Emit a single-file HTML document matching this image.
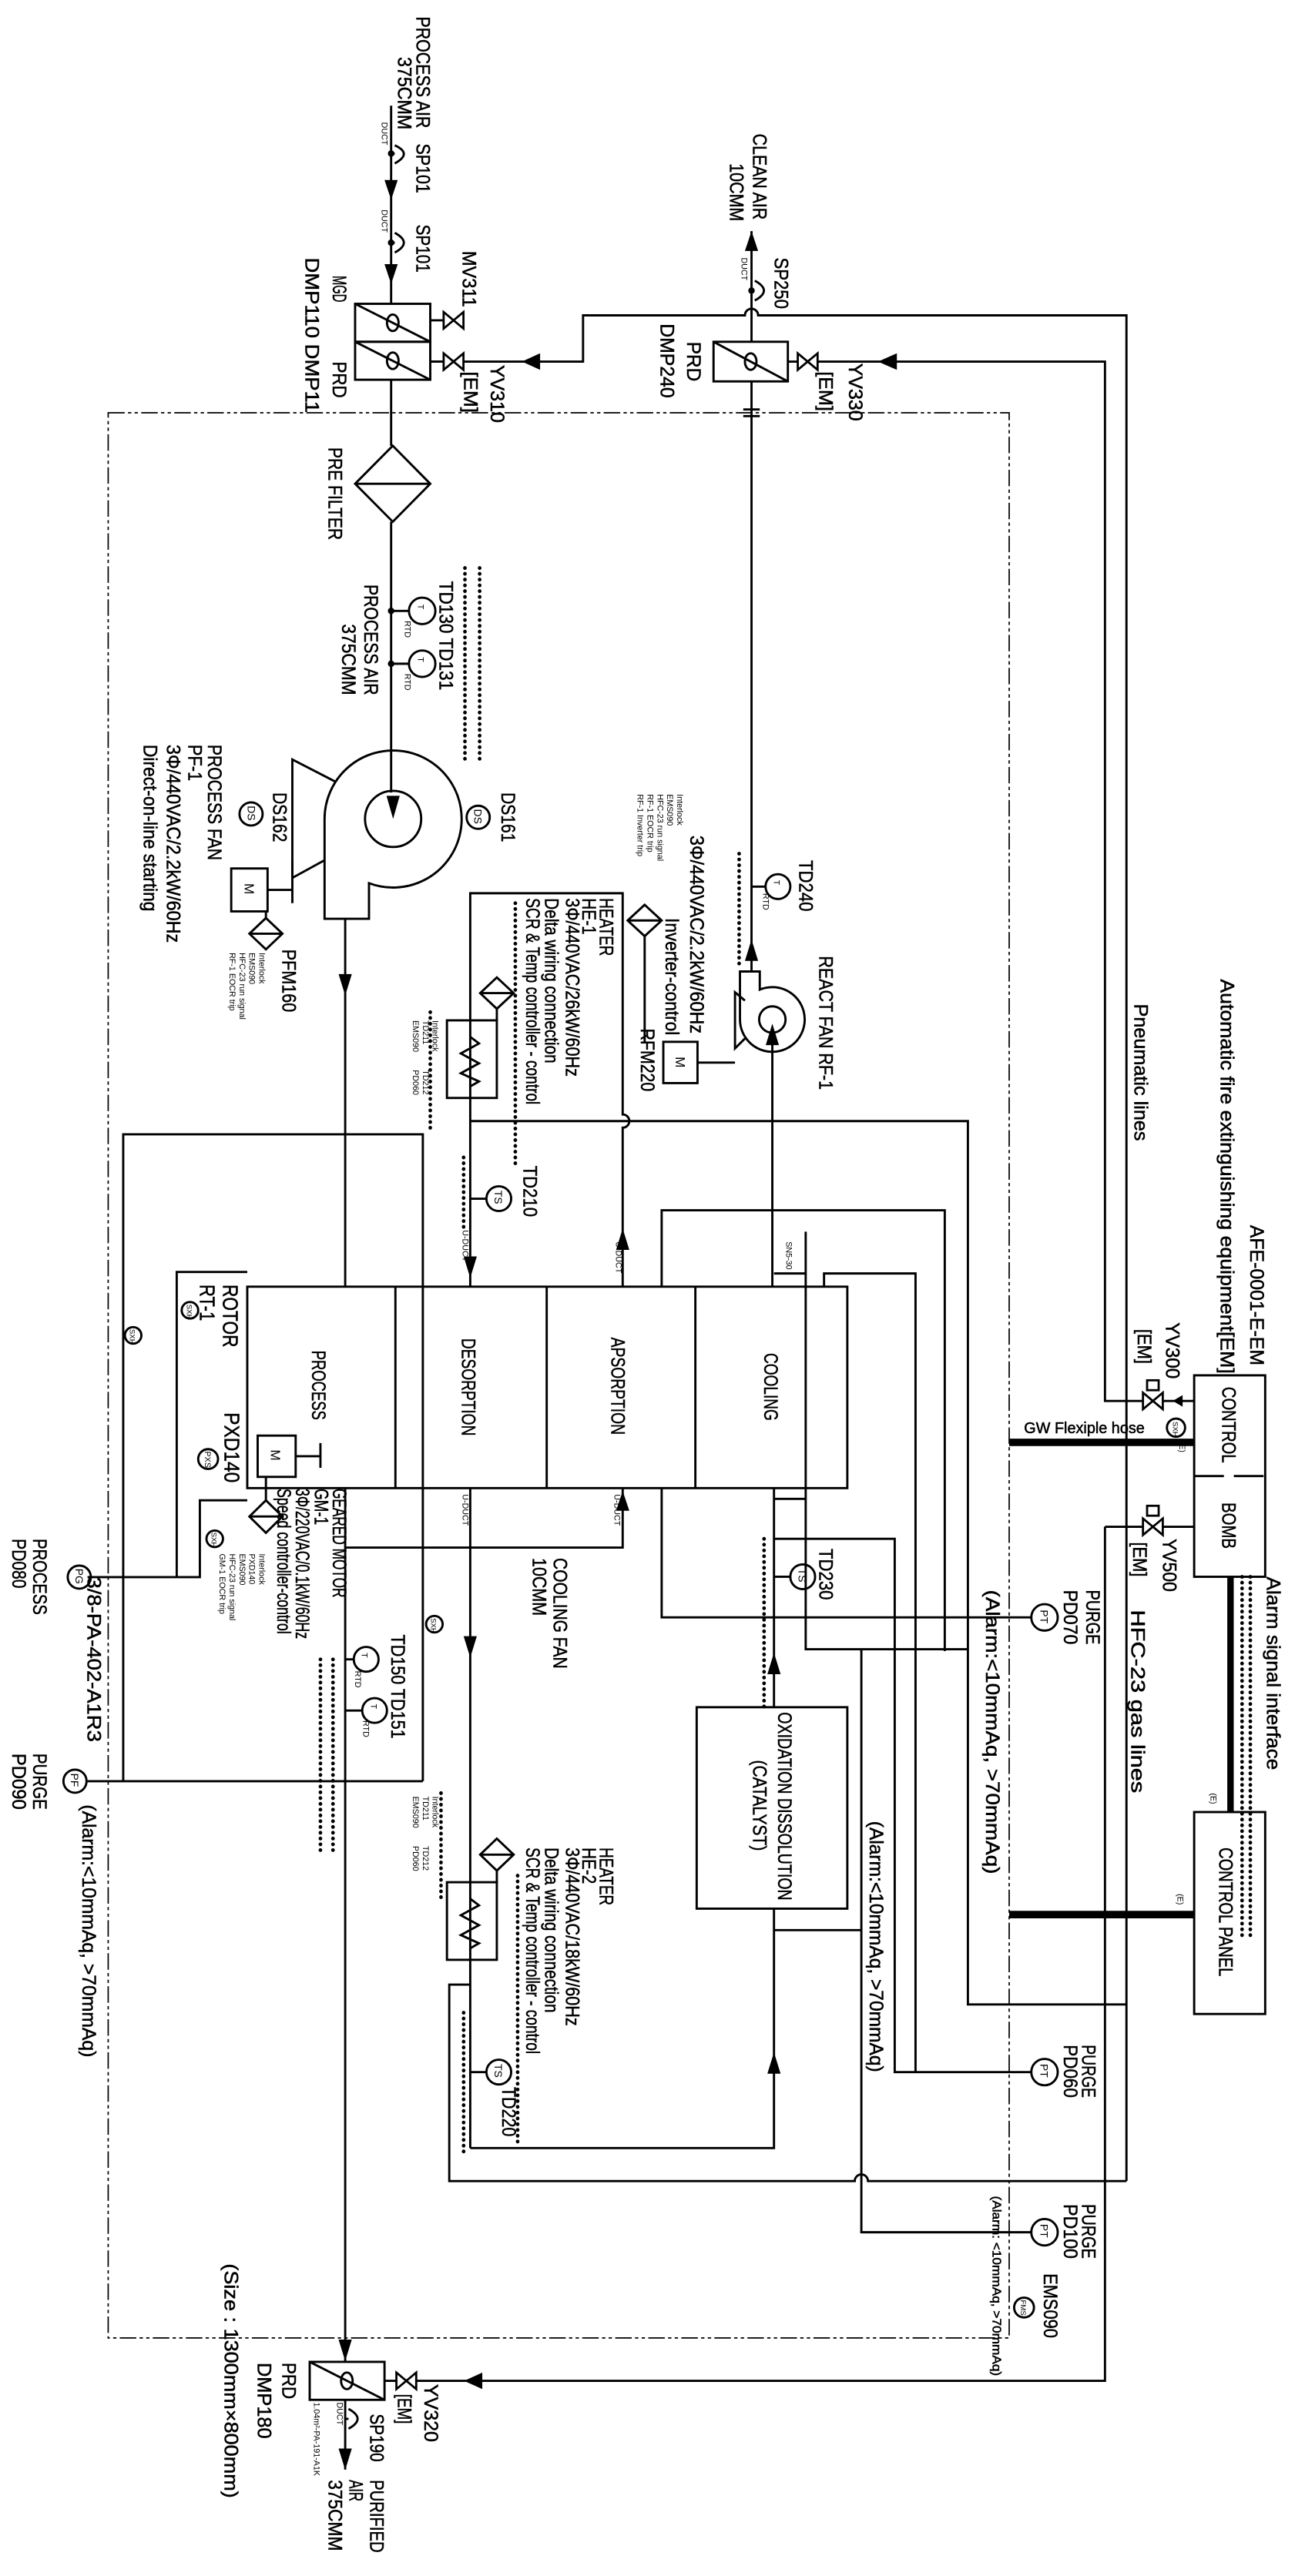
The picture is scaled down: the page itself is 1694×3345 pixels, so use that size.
<!DOCTYPE html>
<html><head><meta charset="utf-8"><style>
html,body{margin:0;padding:0;background:#fff}
svg{display:block}
text{font-family:"Liberation Sans",sans-serif;fill:#000;stroke:none}
.b text{stroke:#000;stroke-width:0.25}
</style></head><body>
<svg xmlns="http://www.w3.org/2000/svg" width="1694" height="3345" viewBox="0 0 790.1 1560.2" preserveAspectRatio="none">
<rect x="0" y="0" width="790.1" height="1560.2" fill="#fff"/>
<g stroke="#000" fill="none" stroke-width="1.35">
<path d="M65.5,250 H611 V1416 H65.5 Z" stroke-width="0.8" stroke-dasharray="10 2 2 2 2 2"/>
<path d="M236.8,64 V184"/>
<path d="M239,88 Q250,93 239,99 M236.8,93 H239"/>
<path d="M239,141 Q250,147 239,153 M236.8,147 H239"/>
<circle cx="236.8" cy="93" r="1.3"/><circle cx="236.8" cy="147" r="1.3"/>
<rect x="215" y="184" width="45.5" height="23"/><rect x="215" y="207" width="45.5" height="23"/>
<path d="M215,184 L260.5,207 M215,207 L260.5,230"/>
<ellipse cx="237.8" cy="195.5" rx="3.5" ry="5"/><ellipse cx="237.8" cy="218.5" rx="3.5" ry="5"/>
<path d="M260.5,194 H269 M260.5,219 H269"/>
<path d="M236.8,230 V270"/>
<polygon points="237.8,270 260.5,293 237.8,316 215,293"/><path d="M215,293 H260.5"/>
<path d="M236.8,316 V480"/>
<circle cx="236.8" cy="370" r="1.3"/><circle cx="236.8" cy="402" r="1.3"/>
<path d="M236.8,370 H247.6 M236.8,402 H247.6"/>
<ellipse cx="255.6" cy="370" rx="8" ry="8"/><ellipse cx="255.6" cy="402" rx="8" ry="8"/>
<path d="M223.4,534.9 A41.5,41.5 0 1 0 196.5,496 V556.5 H223.4 Z"/>
<circle cx="238" cy="496" r="17"/>
<path d="M203,473.4 L177,460 V531.7 L196.5,521"/>
<rect x="140" y="526" width="22" height="26"/>
<path d="M162,539 H177 M177,521 V547"/>
<polygon points="161,556 171,565.5 161,575 151,565.5"/><path d="M151,565.5 H171 M161,552 V556"/>
<circle cx="289.5" cy="495" r="7"/><circle cx="152" cy="493" r="7"/>
<path d="M209,556.5 V779.3"/>
<path d="M74.6,1078.8 V687 H256 V1078.8 M53,1078.8 H256"/>
<rect x="149.7" y="779.3" width="363.3" height="122"/>
<path d="M239.4,779.3 V901.3 M331,779.3 V901.3 M421,779.3 V901.3"/>
<path d="M487.8,746 V998.9 H586"/>
<path d="M468.6,771.3 H487.8 M468.6,907.8 H487.8"/>
<rect x="156" y="869.5" width="23" height="25"/>
<path d="M179,882 H194 M194,874 V889"/>
<polygon points="161,908.7 171,918.5 161,928.4 151,918.5"/><path d="M161,894.4 V908.7 M151,918.5 H171"/>
<path d="M149.7,770.4 H107 V955.2 M53,955.2 H121 V908.7 H149.7"/>
<circle cx="48" cy="955.2" r="7"/>
<circle cx="45.4" cy="1078.8" r="7"/>
<circle cx="126" cy="883.7" r="6"/>
<circle cx="80.6" cy="808.8" r="5"/><circle cx="115" cy="793.6" r="5"/><circle cx="130" cy="932" r="5"/><circle cx="263" cy="983.7" r="5"/>
<path d="M284.7,779.3 V541 H377 V675 A4,4 0 0 1 377,683 V779.3"/>
<rect x="270.6" y="618" width="30.2" height="47"/>
<path d="M284.7,628 L290,632 L279,638 L290,644 L279,650 L290,655 L284.7,658"/>
<polygon points="300.8,592 311,601.5 300.8,611 290.7,601.5"/><path d="M290.7,601.5 H311 M300.8,611 V618"/>
<path d="M284.7,679 H586 V1214 H682"/>
<circle cx="302" cy="726" r="7.5"/><path d="M284.7,726 H294.5"/>
<path d="M455,140 V207 M455,231 V588.4"/>
<path d="M450,248 H460 M450,252 H460"/>
<circle cx="455" cy="176" r="1.3"/><path d="M457,170 Q468,176 457,182"/>
<rect x="432" y="207" width="45" height="24"/><path d="M432,207 L477,231"/><ellipse cx="454.5" cy="219" rx="3.5" ry="5"/>
<path d="M460,599.4 V588.4 H448 V617.5 A19.6,19.6 0 1 0 460,599.4 Z"/>
<circle cx="467.6" cy="617.5" r="8"/>
<path d="M451,606 L445,601 V635 L451,629"/>
<rect x="401.6" y="631" width="20.7" height="25"/><path d="M422.3,643.6 H445"/>
<polygon points="390.3,548 400.6,557.5 390.3,567 380,557.5"/><path d="M380,557.5 H400.6 M390.3,567 V631"/>
<path d="M467.6,625 V779.3"/>
<circle cx="471" cy="537" r="7.5"/><path d="M455,537 H463.5"/>
<path d="M260.5,219 H353 V191 H451 A4,4 0 0 1 459,191 H682 V1321"/>
<path d="M477,219 H669 V848.5 H723"/>
<path d="M669,924.7 H723 M669,924.7 V1442 H232.8"/>
<rect x="723" y="833" width="43" height="122"/>
<path d="M723,894 H766" stroke-dasharray="18 6"/>
<path d="M611,873.6 H723" stroke-width="4.5"/>
<path d="M745,955 V1097.5" stroke-width="3.9"/>
<rect x="723" y="1097.5" width="43" height="122.3"/>
<path d="M611,1159.6 H723" stroke-width="4.5"/>
<circle cx="712" cy="864.7" r="5.5"/>
<path d="M400.6,779.3 V733 H572 V1000"/>
<path d="M400.6,901.3 V979.6 H624.4"/>
<path d="M498.9,779.3 V771.3 H554.3 V1255"/>
<path d="M468.6,932 H541.7 V1255 H624.4"/>
<path d="M468.6,901.3 V1034"/>
<circle cx="486" cy="955" r="7.5"/><path d="M468.6,955 H478.5"/>
<circle cx="632.4" cy="979.6" r="8"/><circle cx="632.4" cy="1255" r="8"/><circle cx="632.4" cy="1352" r="8"/>
<circle cx="620" cy="1397.6" r="6"/>
<rect x="421.8" y="1034" width="91.2" height="122"/>
<path d="M468.6,1156 V1301 H284.7 M468.6,1169 H521.5 M521.5,998.9 V1352 H624.4"/>
<path d="M284.7,901.3 V1301"/>
<rect x="270.6" y="1140" width="30.2" height="47"/>
<path d="M284.7,1150 L290,1154 L279,1160 L290,1166 L279,1172 L290,1177 L284.7,1180"/>
<polygon points="300.8,1113.6 311,1123.3 300.8,1133 290.7,1123.3"/><path d="M290.7,1123.3 H311 M300.8,1133 V1140"/>
<path d="M284.7,1202 H272 V1321 H517.5 A4,4 0 0 1 525.5,1321 H682"/>
<circle cx="302" cy="1255" r="7.5"/><path d="M284.7,1255 H294.5"/>
<path d="M209,937.3 H377 V901.3"/>
<path d="M209,901.3 V1430.5"/>
<circle cx="221.7" cy="1005" r="7.5"/><circle cx="226.8" cy="1036" r="7.5"/>
<path d="M209,1005 H214.2 M209,1036 H219.3"/>
<rect x="187.5" y="1430.5" width="45.3" height="23"/><path d="M187.5,1430.5 L232.8,1453.5"/><ellipse cx="210" cy="1442" rx="3.5" ry="5"/>
<path d="M209,1453.5 V1495.7"/>
<path d="M211,1459 Q222,1465 211,1471 M209,1465 H211"/>
</g>
<g stroke="#000" stroke-width="2.2" stroke-linecap="round" stroke-dasharray="0.1 3.4" fill="none">
<path d="M281.5,344 V462 M290.4,344 V462 M447.5,517 V585 M312,547 V706 M260.5,613 V685 M280.7,701 V744 M280.7,1219 V1306 M462.6,932 V1034 M194,1005 V1124 M201.6,1005 V1124 M313.4,1136 V1298 M267,1086 V1151 M752,955 V1175 M757,955 V1175"/>
</g>
<g fill="#000" stroke="none">
<polygon points="232.8,109 240.8,109 236.8,121"/>
<polygon points="232.8,160 240.8,160 236.8,172"/>
<polygon points="234,482 242,482 238,496"/>
<polygon points="205,590 213,590 209,603"/>
<polygon points="451,152 459,152 455,140"/>
<polygon points="451,582 459,582 455,569"/>
<polygon points="463.6,633 471.6,633 467.6,620"/>
<polygon points="316,219 327,214 327,224"/>
<polygon points="531.6,219 543,214 543,224"/>
<polygon points="710,848.5 716,845 716,852"/>
<polygon points="281,1442 292,1437 292,1447"/>
<polygon points="280.7,761 288.7,761 284.7,774"/>
<polygon points="373,757 381,757 377,744"/>
<polygon points="280.7,991 288.7,991 284.7,1004"/>
<polygon points="373,915 381,915 377,903"/>
<polygon points="464.6,1014 472.6,1014 468.6,1001"/>
<polygon points="464.6,1256 472.6,1256 468.6,1243"/>
<polygon points="205,1417 213,1417 209,1430"/>
<polygon points="205,1483 213,1483 209,1496"/>
</g>
<g stroke="#000" stroke-width="1.3" fill="#fff">
<path d="M268.6,189 L280.6,199 V189 L268.6,199 Z"/>
<path d="M268.6,214 L280.6,224 V214 L268.6,224 Z"/>
<path d="M483,214 L495,224 V214 L483,224 Z"/>
<path d="M692,843.5 L704,853.5 V843.5 L692,853.5 Z"/>
<path d="M692,919.7 L704,929.7 V919.7 L692,929.7 Z"/>
<path d="M240,1437 L252,1447 V1437 L240,1447 Z"/>
<rect x="694.5" y="836" width="7" height="6"/><rect x="694.5" y="912" width="7" height="6"/>
</g>
<g font-size="11.5" class="b">
<text transform="translate(252,10) rotate(90)" textLength="67.6" lengthAdjust="spacingAndGlyphs">PROCESS AIR</text>
<text transform="translate(241,34.5) rotate(90)" textLength="44" lengthAdjust="spacingAndGlyphs">375CMM</text>
<text transform="translate(252,87) rotate(90)" textLength="30" lengthAdjust="spacingAndGlyphs">SP101</text>
<text transform="translate(252,136) rotate(90)" textLength="29" lengthAdjust="spacingAndGlyphs">SP101</text>
<text transform="translate(280,152) rotate(90)" textLength="34" lengthAdjust="spacingAndGlyphs">MV311</text>
<text transform="translate(201.6,167) rotate(90)" textLength="16" lengthAdjust="spacingAndGlyphs">MGD</text>
<text transform="translate(185,156) rotate(90)" textLength="94" lengthAdjust="spacingAndGlyphs">DMP110 DMP11</text>
<text transform="translate(201.6,219) rotate(90)" textLength="22" lengthAdjust="spacingAndGlyphs">PRD</text>
<text transform="translate(297,221) rotate(90)" textLength="35" lengthAdjust="spacingAndGlyphs">YV310</text>
<text transform="translate(281,225) rotate(90)" textLength="25" lengthAdjust="spacingAndGlyphs">[EM]</text>
<text transform="translate(199,271) rotate(90)" textLength="56" lengthAdjust="spacingAndGlyphs">PRE FILTER</text>
<text transform="translate(456,81) rotate(90)" textLength="52" lengthAdjust="spacingAndGlyphs">CLEAN AIR</text>
<text transform="translate(442,99) rotate(90)" textLength="35" lengthAdjust="spacingAndGlyphs">10CMM</text>
<text transform="translate(469,156) rotate(90)" textLength="31" lengthAdjust="spacingAndGlyphs">SP250</text>
<text transform="translate(416,207) rotate(90)" textLength="24" lengthAdjust="spacingAndGlyphs">PRD</text>
<text transform="translate(400,196) rotate(90)" textLength="45" lengthAdjust="spacingAndGlyphs">DMP240</text>
<text transform="translate(514,220) rotate(90)" textLength="35" lengthAdjust="spacingAndGlyphs">YV330</text>
<text transform="translate(496,225) rotate(90)" textLength="24" lengthAdjust="spacingAndGlyphs">[EM]</text>
<text transform="translate(266,352) rotate(90)" textLength="66" lengthAdjust="spacingAndGlyphs">TD130 TD131</text>
<text transform="translate(220.6,354) rotate(90)" textLength="67" lengthAdjust="spacingAndGlyphs">PROCESS AIR</text>
<text transform="translate(207,378) rotate(90)" textLength="43" lengthAdjust="spacingAndGlyphs">375CMM</text>
<text transform="translate(303.7,480) rotate(90)" textLength="30" lengthAdjust="spacingAndGlyphs">DS161</text>
<text transform="translate(165.4,480) rotate(90)" textLength="30" lengthAdjust="spacingAndGlyphs">DS162</text>
<text transform="translate(126,451) rotate(90)" textLength="70" lengthAdjust="spacingAndGlyphs">PROCESS FAN</text>
<text transform="translate(114,451) rotate(90)" textLength="22" lengthAdjust="spacingAndGlyphs">PF-1</text>
<text transform="translate(101,451) rotate(90)" textLength="120" lengthAdjust="spacingAndGlyphs">3Φ/440VAC/2.2kW/60Hz</text>
<text transform="translate(87,451) rotate(90)" textLength="101" lengthAdjust="spacingAndGlyphs">Direct-on-line starting</text>
<text transform="translate(171,575) rotate(90)" textLength="38" lengthAdjust="spacingAndGlyphs">PFM160</text>
<text transform="translate(496,579) rotate(90)" textLength="81" lengthAdjust="spacingAndGlyphs">REACT FAN RF-1</text>
<text transform="translate(484,521) rotate(90)" textLength="31" lengthAdjust="spacingAndGlyphs">TD240</text>
<text transform="translate(418,506) rotate(90)" textLength="120" lengthAdjust="spacingAndGlyphs">3Φ/440VAC/2.2kW/60Hz</text>
<text transform="translate(403,556) rotate(90)" textLength="71" lengthAdjust="spacingAndGlyphs">Inverter-control</text>
<text transform="translate(388,623) rotate(90)" textLength="38" lengthAdjust="spacingAndGlyphs">RFM220</text>
<text transform="translate(363,544) rotate(90)" textLength="35" lengthAdjust="spacingAndGlyphs">HEATER</text>
<text transform="translate(352.7,544) rotate(90)" textLength="22" lengthAdjust="spacingAndGlyphs">HE-1</text>
<text transform="translate(342.6,544) rotate(90)" textLength="108" lengthAdjust="spacingAndGlyphs">3Φ/440VAC/26kW/60Hz</text>
<text transform="translate(330,544) rotate(90)" textLength="100" lengthAdjust="spacingAndGlyphs">Delta wiring connection</text>
<text transform="translate(318.5,544) rotate(90)" textLength="125" lengthAdjust="spacingAndGlyphs">SCR &amp; Temp controller - control</text>
<text transform="translate(317,706) rotate(90)" textLength="31" lengthAdjust="spacingAndGlyphs">TD210</text>
<text transform="translate(135,778) rotate(90)" textLength="38" lengthAdjust="spacingAndGlyphs" font-size="13">ROTOR</text>
<text transform="translate(121,778) rotate(90)" textLength="22" lengthAdjust="spacingAndGlyphs" font-size="13">RT-1</text>
<text transform="translate(136,855.5) rotate(90)" textLength="42.5" lengthAdjust="spacingAndGlyphs" font-size="13">PXD140</text>
<text transform="translate(189,818) rotate(90)" textLength="42" lengthAdjust="spacingAndGlyphs">PROCESS</text>
<text transform="translate(279.7,810.6) rotate(90)" textLength="59" lengthAdjust="spacingAndGlyphs">DESORPTION</text>
<text transform="translate(370,810) rotate(90)" textLength="59" lengthAdjust="spacingAndGlyphs">APSORPTION</text>
<text transform="translate(462.6,819.5) rotate(90)" textLength="41" lengthAdjust="spacingAndGlyphs">COOLING</text>
<text transform="translate(201.6,901.6) rotate(90)" textLength="66" lengthAdjust="spacingAndGlyphs">GEARED MOTOR</text>
<text transform="translate(190.5,901.6) rotate(90)" textLength="22" lengthAdjust="spacingAndGlyphs">GM-1</text>
<text transform="translate(179,901.6) rotate(90)" textLength="91" lengthAdjust="spacingAndGlyphs">3Φ/220VAC/0.1kW/60Hz</text>
<text transform="translate(168,901.6) rotate(90)" textLength="88" lengthAdjust="spacingAndGlyphs">Speed controller-control</text>
<text transform="translate(20,932) rotate(90)" textLength="46" lengthAdjust="spacingAndGlyphs">PROCESS</text>
<text transform="translate(7.5,932) rotate(90)" textLength="30" lengthAdjust="spacingAndGlyphs">PD080</text>
<text transform="translate(53,955) rotate(90)" textLength="100" lengthAdjust="spacingAndGlyphs">3/8-PA-402-A1R3</text>
<text transform="translate(335,943.6) rotate(90)" textLength="67" lengthAdjust="spacingAndGlyphs">COOLING FAN</text>
<text transform="translate(322.5,943.6) rotate(90)" textLength="35" lengthAdjust="spacingAndGlyphs">10CMM</text>
<text transform="translate(496,938) rotate(90)" textLength="31" lengthAdjust="spacingAndGlyphs">TD230</text>
<text transform="translate(237,990) rotate(90)" textLength="63" lengthAdjust="spacingAndGlyphs">TD150 TD151</text>
<text transform="translate(657.6,963) rotate(90)" textLength="33" lengthAdjust="spacingAndGlyphs">PURGE</text>
<text transform="translate(644,963) rotate(90)" textLength="33" lengthAdjust="spacingAndGlyphs">PD070</text>
<text transform="translate(597,963) rotate(90)" textLength="172" lengthAdjust="spacingAndGlyphs">(Alarm:&lt;10mmAq, &gt;70mmAq)</text>
<text transform="translate(686.7,608) rotate(90)" textLength="83" lengthAdjust="spacingAndGlyphs">Pneumatic lines</text>
<text transform="translate(739,593) rotate(90)" textLength="239" lengthAdjust="spacingAndGlyphs">Automatic fire extinguishing equipment[EM]</text>
<text transform="translate(757,742) rotate(90)" textLength="85" lengthAdjust="spacingAndGlyphs">AFE-0001-E-EM</text>
<text transform="translate(706,801) rotate(90)" textLength="34" lengthAdjust="spacingAndGlyphs">YV300</text>
<text transform="translate(689,805) rotate(90)" textLength="21" lengthAdjust="spacingAndGlyphs">[EM]</text>
<text transform="translate(740,840) rotate(90)" textLength="46" lengthAdjust="spacingAndGlyphs">CONTROL</text>
<text transform="translate(740,910) rotate(90)" textLength="28" lengthAdjust="spacingAndGlyphs">BOMB</text>
<text transform="translate(704,932) rotate(90)" textLength="32" lengthAdjust="spacingAndGlyphs">YV500</text>
<text transform="translate(686,934) rotate(90)" textLength="21" lengthAdjust="spacingAndGlyphs">[EM]</text>
<text x="620" y="868" font-size="9.5" textLength="73" lengthAdjust="spacingAndGlyphs">GW Flexiple hose</text>
<text transform="translate(767,955) rotate(90)" textLength="117" lengthAdjust="spacingAndGlyphs">Alarm signal interface</text>
<text transform="translate(685,975) rotate(90)" textLength="111" lengthAdjust="spacingAndGlyphs">HFC-23 gas lines</text>
<text transform="translate(738,1119) rotate(90)" textLength="78" lengthAdjust="spacingAndGlyphs">CONTROL PANEL</text>
<text transform="translate(471,1037) rotate(90)" textLength="114" lengthAdjust="spacingAndGlyphs">OXIDATION DISSOLUTION</text>
<text transform="translate(456,1066) rotate(90)" textLength="55" lengthAdjust="spacingAndGlyphs">(CATALYST)</text>
<text transform="translate(526.6,1103) rotate(90)" textLength="152" lengthAdjust="spacingAndGlyphs">(Alarm:&lt;10mmAq, &gt;70mmAq)</text>
<text transform="translate(655,1238.5) rotate(90)" textLength="32" lengthAdjust="spacingAndGlyphs">PURGE</text>
<text transform="translate(644,1238.5) rotate(90)" textLength="32" lengthAdjust="spacingAndGlyphs">PD060</text>
<text transform="translate(363,1119) rotate(90)" textLength="35" lengthAdjust="spacingAndGlyphs">HEATER</text>
<text transform="translate(352.7,1119) rotate(90)" textLength="22" lengthAdjust="spacingAndGlyphs">HE-2</text>
<text transform="translate(342.6,1119) rotate(90)" textLength="108" lengthAdjust="spacingAndGlyphs">3Φ/440VAC/18kW/60Hz</text>
<text transform="translate(330,1119) rotate(90)" textLength="100" lengthAdjust="spacingAndGlyphs">Delta wiring connection</text>
<text transform="translate(318.5,1119) rotate(90)" textLength="125" lengthAdjust="spacingAndGlyphs">SCR &amp; Temp controller - control</text>
<text transform="translate(304,1264) rotate(90)" textLength="30" lengthAdjust="spacingAndGlyphs">TD220</text>
<text transform="translate(20,1062) rotate(90)" textLength="34" lengthAdjust="spacingAndGlyphs">PURGE</text>
<text transform="translate(7.5,1062) rotate(90)" textLength="34" lengthAdjust="spacingAndGlyphs">PD090</text>
<text transform="translate(50,1093) rotate(90)" textLength="153" lengthAdjust="spacingAndGlyphs">(Alarm:&lt;10mmAq, &gt;70mmAq)</text>
<text transform="translate(655,1335) rotate(90)" textLength="33" lengthAdjust="spacingAndGlyphs">PURGE</text>
<text transform="translate(644,1335) rotate(90)" textLength="33" lengthAdjust="spacingAndGlyphs">PD100</text>
<text transform="translate(601,1330) rotate(90)" textLength="109" lengthAdjust="spacingAndGlyphs" font-size="7.5">(Alarm: &lt;10mmAq, &gt;70mmAq)</text>
<text transform="translate(632,1377) rotate(90)" textLength="39" lengthAdjust="spacingAndGlyphs">EMS090</text>
<text transform="translate(136,1371) rotate(90)" textLength="142" lengthAdjust="spacingAndGlyphs">(Size : 1300mm×800mm)</text>
<text transform="translate(171,1431) rotate(90)" textLength="22" lengthAdjust="spacingAndGlyphs">PRD</text>
<text transform="translate(156,1431) rotate(90)" textLength="46" lengthAdjust="spacingAndGlyphs">DMP180</text>
<text transform="translate(257,1444) rotate(90)" textLength="35" lengthAdjust="spacingAndGlyphs">YV320</text>
<text transform="translate(241,1450) rotate(90)" textLength="18" lengthAdjust="spacingAndGlyphs">[EM]</text>
<text transform="translate(224,1462) rotate(90)" textLength="29" lengthAdjust="spacingAndGlyphs">SP190</text>
<text transform="translate(224,1502) rotate(90)" textLength="44" lengthAdjust="spacingAndGlyphs">PURIFIED</text>
<text transform="translate(211.6,1502) rotate(90)" textLength="13" lengthAdjust="spacingAndGlyphs">AIR</text>
<text transform="translate(199,1502) rotate(90)" textLength="43" lengthAdjust="spacingAndGlyphs">375CMM</text>
</g>
<g font-size="5">
<text transform="translate(231,74) rotate(90)">DUCT</text>
<text transform="translate(231,127) rotate(90)">DUCT</text>
<text transform="translate(449,156) rotate(90)">DUCT</text>
<text transform="translate(204,1455) rotate(90)">DUCT</text>
<text transform="translate(190,1455) rotate(90)">1.04m²-PA-191-A1K</text>
<text transform="translate(245,376) rotate(90)">RTD</text>
<text transform="translate(245,408) rotate(90)">RTD</text>
<text transform="translate(462,541) rotate(90)">RTD</text>
<text transform="translate(215,1012) rotate(90)">RTD</text>
<text transform="translate(220,1042) rotate(90)">RTD</text>
<text transform="translate(476,752) rotate(90)">SN5-30</text>
<text transform="translate(280,745) rotate(90)">U-DUCT</text>
<text transform="translate(373,752) rotate(90)">U-DUCT</text>
<text transform="translate(280,905) rotate(90)">U-DUCT</text>
<text transform="translate(372,905) rotate(90)">U-DUCT</text>
<text transform="translate(157,577) rotate(90)">Interlock</text>
<text transform="translate(151,577) rotate(90)">EMS090</text>
<text transform="translate(145,577) rotate(90)">HFC-23 run signal</text>
<text transform="translate(139,577) rotate(90)">RF-1 EOCR trip</text>
<text transform="translate(410,481) rotate(90)">Interlock</text>
<text transform="translate(404,481) rotate(90)">EMS090</text>
<text transform="translate(398,481) rotate(90)">HFC-23 run signal</text>
<text transform="translate(392,481) rotate(90)">RF-1 EOCR trip</text>
<text transform="translate(386,481) rotate(90)">RF-1 Inverter trip</text>
<text transform="translate(262,618) rotate(90)">Interlock</text>
<text transform="translate(256,618) rotate(90)">TD211</text>
<text transform="translate(250,618) rotate(90)">EMS090</text>
<text transform="translate(256,648) rotate(90)">TD212</text>
<text transform="translate(250,648) rotate(90)">PD060</text>
<text transform="translate(157,941) rotate(90)">Interlock</text>
<text transform="translate(151,941) rotate(90)">PXD140</text>
<text transform="translate(145,941) rotate(90)">EMS090</text>
<text transform="translate(139,941) rotate(90)">HFC-23 run signal</text>
<text transform="translate(133,941) rotate(90)">GM-1 EOCR trip</text>
<text transform="translate(262,1088) rotate(90)">Interlock</text>
<text transform="translate(256,1088) rotate(90)">TD211</text>
<text transform="translate(250,1088) rotate(90)">EMS090</text>
<text transform="translate(256,1118) rotate(90)">TD212</text>
<text transform="translate(250,1118) rotate(90)">PD060</text>
<text transform="translate(733,1086) rotate(90)">(E)</text>
<text transform="translate(713,1147) rotate(90)">(E)</text>
<text transform="translate(714,873) rotate(90)">(E)</text>
</g>
<g font-size="6.5">
<text transform="translate(287,490) rotate(90)">DS</text>
<text transform="translate(150,488) rotate(90)">DS</text>
<text transform="translate(299.5,721) rotate(90)">TS</text>
<text transform="translate(483.5,950) rotate(90)">TS</text>
<text transform="translate(299.5,1250) rotate(90)">TS</text>
<text transform="translate(630,975) rotate(90)">PT</text>
<text transform="translate(630,1250) rotate(90)">PT</text>
<text transform="translate(630,1347) rotate(90)">PT</text>
<text transform="translate(45.6,950) rotate(90)">PG</text>
<text transform="translate(43,1074) rotate(90)">PF</text>
<text transform="translate(124,879) rotate(90)" font-size="5">PXS</text>
<text transform="translate(618,1393) rotate(90)" font-size="4.5">FMS</text>
<text transform="translate(253,366) rotate(90)" font-size="5">T</text>
<text transform="translate(253,398) rotate(90)" font-size="5">T</text>
<text transform="translate(468.5,533) rotate(90)" font-size="5">T</text>
<text transform="translate(219,1001) rotate(90)" font-size="5">T</text>
<text transform="translate(224.5,1032) rotate(90)" font-size="5">T</text>
<text transform="translate(148,535) rotate(90)" font-size="8">M</text>
<text transform="translate(164,878) rotate(90)" font-size="8">M</text>
<text transform="translate(409,640) rotate(90)" font-size="8">M</text>
<text transform="translate(710,861) rotate(90)" font-size="4.5">SXH</text>
<text transform="translate(78.6,805) rotate(90)" font-size="4.5">SXH</text>
<text transform="translate(113,790) rotate(90)" font-size="4.5">SXH</text>
<text transform="translate(128,928) rotate(90)" font-size="4.5">SXH</text>
<text transform="translate(261,980) rotate(90)" font-size="4.5">SXH</text>
</g>
</svg>
</body></html>
